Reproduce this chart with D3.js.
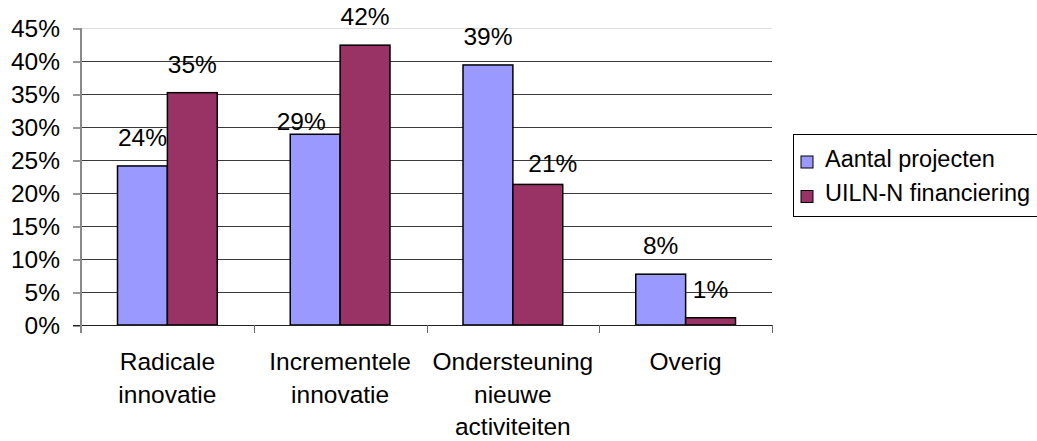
<!DOCTYPE html>
<html>
<head>
<meta charset="utf-8">
<script src="https://cdn.jsdelivr.net/npm/d3@7"></script>
<style>
  body { margin: 0; background: #fff; }
  text { font-family: "Liberation Sans", Arial, sans-serif; fill: #000; }
</style>
</head>
<body>
<div id="chart"></div>
<script>
// chart data
const categories = [
    ["Radicale", "innovatie"],
    ["Incrementele", "innovatie"],
    ["Ondersteuning", "nieuwe", "activiteiten"],
    ["Overig"]
];
const seriesNames = ["Aantal projecten", "UILN-N financiering"];
const aantalProjecten = [24.1, 28.9, 39.4, 7.7];
const uilnFinanciering = [35.2, 42.4, 21.3, 1.1];
const yTicks = [0, 5, 10, 15, 20, 25, 30, 35, 40, 45];

const colors = ["#9999ff", "#993366"];
const fontSize = 24.5;

// labels that were dragged by hand in the original
const labelNudge = {
    "1-0": [-14, 16],
    "2-1": [15, 7.5]
};

const width = 1037, height = 441;
const plot = { left: 81, right: 772, top: 28, bottom: 325 };

const svg = d3.select("#chart").append("svg")
    .attr("width", width)
    .attr("height", height);

const catKeys = categories.map(d => d.join(" "));
const x = d3.scaleBand()
    .domain(catKeys)
    .range([plot.left, plot.right]);
const xSub = d3.scaleBand()
    .domain(seriesNames)
    .range([36.5, x.bandwidth() - 36.5]);
const y = d3.scaleLinear()
    .domain([0, 45])
    .range([plot.bottom, plot.top]);

// gridlines
svg.append("g")
    .selectAll("line")
    .data(yTicks.slice(1))
    .join("line")
    .attr("x1", plot.left)
    .attr("x2", plot.right)
    .attr("y1", d => Math.round(y(d)) + 0.5)
    .attr("y2", d => Math.round(y(d)) + 0.5)
    .attr("stroke", d => d === 45 ? "#dddddd" : "#3a3a3a")
    .attr("stroke-width", 1);

// y axis
const yAxis = svg.append("g")
    .attr("transform", `translate(${plot.left},0)`)
    .call(d3.axisLeft(y).tickValues(yTicks).tickSize(8).tickPadding(13).tickFormat(d => d + "%"));
yAxis.select(".domain").remove();
yAxis.selectAll(".tick line").attr("stroke", "#333").attr("y1", 0.5).attr("y2", 0.5);
yAxis.selectAll(".tick text")
    .attr("font-size", fontSize)
    .attr("font-family", "Liberation Sans, Arial, sans-serif")
    .attr("dy", "0.36em");

// bars
const rows = categories.map((c, i) => ({
    key: catKeys[i],
    idx: i,
    values: [aantalProjecten[i], uilnFinanciering[i]]
}));

const groups = svg.append("g")
    .selectAll("g")
    .data(rows)
    .join("g")
    .attr("transform", d => `translate(${x(d.key)},0)`);

groups.selectAll("rect")
    .data(d => d.values.map((v, s) => ({ v, s, idx: d.idx })))
    .join("rect")
    .attr("x", d => xSub(seriesNames[d.s]))
    .attr("y", d => y(d.v))
    .attr("width", xSub.bandwidth())
    .attr("height", d => y(0) - y(d.v))
    .attr("fill", d => colors[d.s])
    .attr("stroke", "#000")
    .attr("stroke-width", 1.5);

// value labels
groups.selectAll("text.val")
    .data(d => d.values.map((v, s) => ({ v, s, idx: d.idx })))
    .join("text")
    .attr("class", "val")
    .attr("text-anchor", "middle")
    .attr("font-size", fontSize)
    .attr("x", d => xSub(seriesNames[d.s]) + xSub.bandwidth() / 2 + (labelNudge[d.idx + "-" + d.s] || [0, 0])[0])
    .attr("y", d => y(d.v) - 20 + (labelNudge[d.idx + "-" + d.s] || [0, 0])[1])
    .text(d => Math.round(d.v) + "%");

// x axis
svg.append("line")
    .attr("x1", plot.left - 8)
    .attr("x2", plot.right)
    .attr("y1", plot.bottom + 0.5)
    .attr("y2", plot.bottom + 0.5)
    .attr("stroke", "#222");
svg.append("line")
    .attr("x1", plot.left)
    .attr("x2", plot.left)
    .attr("y1", plot.top)
    .attr("y2", plot.bottom + 8)
    .attr("stroke", "#888")
    .attr("stroke-width", 2);

const xTickPos = catKeys.map(k => x(k)).concat([plot.right]);
svg.append("g")
    .selectAll("line")
    .data(xTickPos.slice(1))
    .join("line")
    .attr("x1", d => Math.round(d) + 0.5)
    .attr("x2", d => Math.round(d) + 0.5)
    .attr("y1", plot.bottom)
    .attr("y2", plot.bottom + 8)
    .attr("stroke", "#666");

svg.append("g")
    .selectAll("text")
    .data(categories)
    .join("text")
    .attr("text-anchor", "middle")
    .attr("font-size", fontSize)
    .attr("x", (d, i) => x(catKeys[i]) + x.bandwidth() / 2)
    .attr("y", 370)
    .selectAll("tspan")
    .data(d => d)
    .join("tspan")
    .attr("x", function() { return d3.select(this.parentNode).attr("x"); })
    .attr("dy", (d, i) => i === 0 ? 0 : 32.5)
    .text(d => d);

// legend (box runs past the right edge, as in the original)
const legend = svg.append("g").attr("transform", "translate(793,134)");
legend.append("rect")
    .attr("x", 0.5)
    .attr("y", 0.5)
    .attr("width", 260)
    .attr("height", 82)
    .attr("fill", "#fff")
    .attr("stroke", "#000");

const item = legend.selectAll("g.item")
    .data(seriesNames)
    .join("g")
    .attr("class", "item")
    .attr("transform", (d, i) => `translate(0,${i * 34.5})`);
item.append("rect")
    .attr("x", 8)
    .attr("y", 22)
    .attr("width", 12)
    .attr("height", 12)
    .attr("fill", (d, i) => colors[i])
    .attr("stroke", "#000");
item.append("text")
    .attr("x", 32)
    .attr("y", 32.5)
    .attr("font-size", 23.5)
    .text(d => d);
</script>
</body>
</html>
